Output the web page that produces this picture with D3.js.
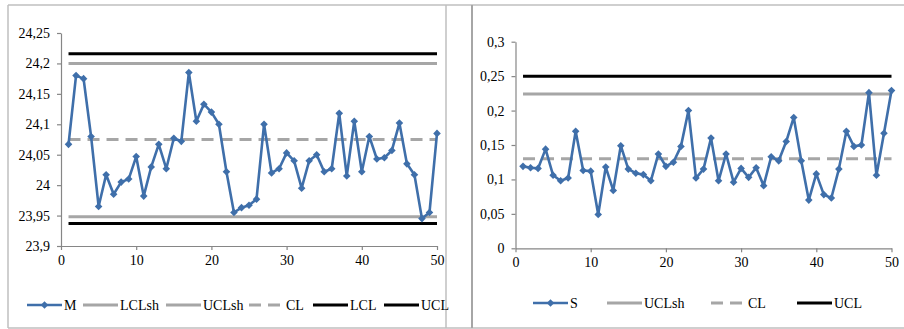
<!DOCTYPE html>
<html><head><meta charset="utf-8">
<script src="https://cdn.jsdelivr.net/npm/d3@7"></script>
<style>
html,body{margin:0;padding:0;background:#fff;}
svg, svg text{font-family:"Liberation Serif","Times New Roman",Times,"DejaVu Serif",serif !important;}
</style></head>
<body><svg id="c" width="904" height="329"></svg>
<script>
// ---- data ----
const samples = d3.range(1, 51);
const mValues = [24.067,24.18,24.175,24.08,23.965,24.017,23.985,24.005,24.01,24.047,
  23.982,24.03,24.067,24.027,24.077,24.072,24.185,24.105,24.133,24.12,
  24.1,24.022,23.955,23.963,23.967,23.977,24.1,24.02,24.027,24.053,
  24.04,23.995,24.04,24.05,24.022,24.027,24.118,24.015,24.105,24.022,
  24.08,24.043,24.045,24.057,24.102,24.035,24.017,23.945,23.955,24.085];
const mLimits = {LCLsh:23.948, UCLsh:24.2, CL:24.075, LCL:23.937, UCL:24.216};
const sValues = [0.119,0.117,0.116,0.144,0.106,0.098,0.102,0.17,0.113,0.112,
  0.049,0.118,0.084,0.149,0.115,0.109,0.107,0.098,0.137,0.119,
  0.125,0.148,0.2,0.102,0.115,0.16,0.098,0.137,0.096,0.116,
  0.103,0.117,0.091,0.133,0.127,0.155,0.19,0.127,0.07,0.108,
  0.078,0.073,0.115,0.17,0.148,0.15,0.226,0.106,0.167,0.229];
const sLimits = {UCLsh:0.224, CL:0.13, UCL:0.25};
const mYTicks = [23.9,23.95,24,24.05,24.1,24.15,24.2,24.25];
const sYTicks = [0,0.05,0.1,0.15,0.2,0.25,0.3];
const xTicks = [0,10,20,30,40,50];
const mLegend = ["M","LCLsh","UCLsh","CL","LCL","UCL"];
const sLegend = ["S","UCLsh","CL","UCL"];

const blue = "#3F6FAA", grayL = "#A6A6A6", axisC = "#868686";
const FONT = '"Liberation Serif","Times New Roman",Times,"DejaVu Serif",serif';
const FS = 14;
const styles = {
  LCLsh:{c:grayL,w:3,d:null}, UCLsh:{c:grayL,w:3,d:null},
  CL:{c:grayL,w:3,d:"12,7"}, LCL:{c:"#000",w:3,d:null}, UCL:{c:"#000",w:3,d:null}
};

const svg = d3.select("#c");
// frames
const fr = svg.append("g").attr("fill","none").attr("stroke","#BFBFBF").attr("stroke-width",1.5);
fr.append("line").attr("x1",8).attr("x2",904).attr("y1",5).attr("y2",5);
fr.append("line").attr("x1",8).attr("x2",904).attr("y1",328).attr("y2",328);
fr.append("line").attr("x1",8).attr("x2",8).attr("y1",5).attr("y2",328);
fr.append("line").attr("x1",446).attr("x2",446).attr("y1",5).attr("y2",328);
fr.append("line").attr("x1",472).attr("x2",472).attr("y1",5).attr("y2",328).attr("stroke","#A6A6A6").attr("stroke-width",2);

const diamond = (s)=>`M0,${-s}L${s},0L0,${s}L${-s},0Z`;

function chart(opt){
  const x = d3.scaleLinear().domain([0,50]).range(opt.xr);
  const y = d3.scaleLinear().domain(opt.yd).range(opt.yr);
  const fmt = d => String(+d.toFixed(3)).replace(".", ",");
  const g = svg.append("g");
  const ya = g.append("g").attr("transform",`translate(${opt.xr[0]},0)`)
    .call(d3.axisLeft(y).tickValues(opt.yTicks).tickSize(4).tickSizeOuter(0).tickPadding(7).tickFormat(fmt));
  const xa = g.append("g").attr("transform",`translate(0,${opt.yr[0]})`)
    .call(d3.axisBottom(x).tickValues(xTicks).tickSize(4).tickSizeOuter(0).tickPadding(5).tickFormat(d=>d));
  [ya,xa].forEach(a=>{
    a.attr("font-family",FONT).attr("font-size",FS);
    a.selectAll("path,line").attr("stroke",axisC).attr("stroke-width",1.2);
    a.selectAll("text").attr("fill","#000");
  });
  // limit lines
  Object.keys(opt.limits).forEach(k=>{
    const st = styles[k];
    g.append("line").attr("x1",x(1)).attr("x2",x(50))
      .attr("y1",y(opt.limits[k])).attr("y2",y(opt.limits[k]))
      .attr("stroke",st.c).attr("stroke-width",st.w).attr("stroke-dasharray",st.d);
  });
  // series
  const line = d3.line().x((d,i)=>x(samples[i])).y(d=>y(d));
  g.append("path").datum(opt.values).attr("d",line).attr("fill","none")
    .attr("stroke",blue).attr("stroke-width",2.6).attr("stroke-linejoin","round");
  g.selectAll(".pt").data(opt.values).enter().append("path")
    .attr("d",diamond(3.8)).attr("fill",blue)
    .attr("transform",(d,i)=>`translate(${x(samples[i])},${y(d)})`);
  // legend
  const lg = svg.append("g").attr("font-family",FONT).attr("font-size",FS);
  opt.legend.forEach((k,i)=>{
    const lx = opt.legX[i], ly = opt.legY;
    if(k===opt.name){
      lg.append("line").attr("x1",lx).attr("x2",lx+35).attr("y1",ly).attr("y2",ly)
        .attr("stroke",blue).attr("stroke-width",2.6);
      lg.append("path").attr("d",diamond(3.8)).attr("fill",blue).attr("transform",`translate(${lx+17.5},${ly})`);
    } else {
      const st = styles[k];
      lg.append("line").attr("x1",lx).attr("x2",lx+35).attr("y1",ly).attr("y2",ly)
        .attr("stroke",st.c).attr("stroke-width",st.w).attr("stroke-dasharray",st.d);
    }
    lg.append("text").attr("x",lx+37).attr("y",ly+5).text(k);
  });
}

chart({name:"M", xr:[61,437], yr:[246,33], yd:[23.9,24.25], yTicks:mYTicks,
  values:mValues, limits:mLimits, legend:mLegend,
  legX:[27,83,166,249,313,384], legY:305});
chart({name:"S", xr:[515.5,891.5], yr:[248.3,41.7], yd:[0,0.3], yTicks:sYTicks,
  values:sValues, limits:sLimits, legend:sLegend,
  legX:[533,607,711,797], legY:303});
</script></body></html>
